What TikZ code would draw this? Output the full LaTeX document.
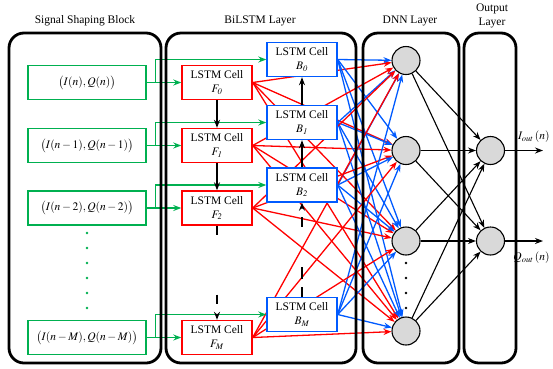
\documentclass[tikz,border=0pt]{standalone}
\usepackage{mathptmx}
\usepackage{fontspec}
\setmainfont{Liberation Serif}
\usetikzlibrary{arrows.meta,backgrounds}
\definecolor{sgreen}{RGB}{0,176,80}
\definecolor{cred}{RGB}{255,0,0}
\definecolor{cblue}{RGB}{0,90,255}
\tikzset{
    panel/.style={draw, line width=2.8pt, rounded corners=15pt},
    sigbox/.style={draw=sgreen, line width=1.4pt, minimum width=118pt, minimum height=34pt, inner sep=0pt},
    fcell/.style={draw=cred, fill=white, line width=1.4pt, minimum width=70pt, minimum height=34pt, align=center, inner sep=0pt},
    bcell/.style={draw=cblue, fill=white, line width=1.4pt, minimum width=70pt, minimum height=34pt, align=center, inner sep=0pt},
    neuron/.style={circle, draw, line width=1.1pt, fill=black!15, minimum size=28pt, inner sep=0pt},
    arw/.style={-{Stealth[length=8pt,width=6pt]}, line width=1.1pt},
    garr/.style={arw, draw=sgreen, line width=1.5pt},
    rarr/.style={arw, draw=cred, line width=1.3pt},
    blarr/.style={arw, draw=cblue, line width=1.3pt},
}
\begin{document}
\begin{tikzpicture}[x=1pt, y=-1pt, font=\fontsize{11.5}{14}\selectfont]
    \useasboundingbox (0,0) rectangle (553,368);
    % Titles %
    \node (tsig) at (85,21) {Signal Shaping Block};
    \node (tbil) at (260,21) {BiLSTM Layer};
    \node (tdnn) at (410,21) {DNN Layer};
    \node[align=center] (tout) at (492,16) {Output\\Layer};

    % Cells %
    \foreach \i/\y/\s/\a in {0/82.5/0/n, 1/145.5/1/n-1, 2/208/2/n-2, 3/337.5/M/n-M} {
        \node[sigbox] (s\i) at (87,\y) {$\bigl(I(\a),Q(\a)\bigr)$};
        \node[fcell] (f\i) at (217,\y) {LSTM Cell\\$F_{\mathit{\s}}$};
        \node[bcell] (b\i) at (302,\y-23) {LSTM Cell\\$B_{\mathit{\s}}$};
    }
    \foreach \y in {233,248,...,308} \fill[sgreen] (87,\y) circle (1.4pt);

    % Neurons %
    \foreach \j/\y in {0/60.5, 1/150.5, 2/241, 3/331}
        \node[neuron] (d\j) at (406,\y) {};
    \foreach \y in {263,278,...,308} \fill (406,\y) circle (1.4pt);
    \node[neuron] (o1) at (490.5,150.5) {};
    \node[neuron] (o2) at (490.5,241) {};

    % Links %
    \begin{pgfonlayer}{background}
        \foreach \i in {0,...,3}
            \foreach \j in {0,...,3} {
                \draw[rarr] (f\i.east) -- (d\j);
                \draw[blarr] (b\i.east) -- (d\j);
            }
    \end{pgfonlayer}
    \foreach \i in {0,...,3} {
        \draw[garr] (s\i.east) -- (f\i.west);
        \draw[garr] (s\i.east) -- ++(9,0) |- (b\i.west);
    }
    \draw[arw] (f0.south) -- (f1.north);
    \draw[arw] (f1.south) -- (f2.north);
    \draw[arw, dash pattern=on 9pt off 60pt] (f2.south) -- (f3.north);
    \draw[arw] (b1.north) -- (b0.south);
    \draw[arw] (b2.north) -- (b1.south);
    \draw[arw, dash pattern=on 10pt off 8pt on 12pt off 40pt on 10pt off 40pt] (b3.north) -- (b2.south);
    \foreach \j in {0,...,3} {
        \draw[arw] (d\j) -- (o1);
        \draw[arw] (d\j) -- (o2);
    }

    % Outputs %
    \coordinate (iend) at (543,150.5);
    \coordinate (qend) at (543,241);
    \draw[arw] (o1) -- (iend);
    \draw[arw] (o2) -- (qend);
    \node[anchor=east] (ilab) at (553,137) {$I_{out}\left(n\right)$};
    \node[anchor=east] (qlab) at (553,258) {$Q_{out}\left(n\right)$};

    % Panels %
    \draw[panel] (9,33) rectangle (161,363);
    \draw[panel] (166,33) rectangle (356,363);
    \draw[panel] (363,33) rectangle (459,363);
    \draw[panel] (464,33) rectangle (516,363);
\end{tikzpicture}
\end{document}
